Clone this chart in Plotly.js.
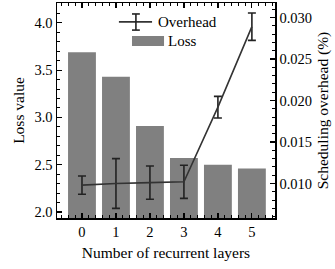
<!DOCTYPE html>
<html>
<head>
<meta charset="utf-8">
<script src="https://cdn.plot.ly/plotly-3.0.1.min.js"></script>
<style>html,body{margin:0;padding:0;background:#fff;}#chart{width:335px;height:269px;}</style>
</head>
<body>
<div id="chart"></div>
<script>
const layers = [0, 1, 2, 3, 4, 5];
const lossValues = [3.69, 3.43, 2.91, 2.57, 2.50, 2.46];
const overheadValues = [0.0098, 0.0100, 0.0101, 0.0102, 0.0192, 0.0289];
const overheadErrors = [0.0011, 0.0030, 0.0020, 0.0020, 0.0013, 0.00165];
const tickLabels = ['0', '1', '2', '3', '4', '5'];
const seriesNames = ['Overhead', 'Loss'];

const fam = '"Liberation Serif", "Times New Roman", serif';
const lineColor = '#333333';
const errColor = '#222222';
const barColor = '#808080';

const data = [
  {
    type: 'scatter', mode: 'lines', name: seriesNames[0],
    x: layers, y: overheadValues, yaxis: 'y2',
    line: {color: lineColor, width: 1.6},
    error_y: {type: 'data', array: overheadErrors, visible: true, color: errColor, thickness: 1.6, width: 4}
  },
  {
    type: 'bar', name: seriesNames[1],
    x: layers, y: lossValues, yaxis: 'y',
    marker: {color: barColor}, width: 0.82
  }
];

// legend drawn by hand in paper coordinates
const shapes = [
  {type: 'line', xref: 'paper', yref: 'paper', x0: 0.284, x1: 0.436, y0: 0.912, y1: 0.912, line: {color: lineColor, width: 1.6}},
  {type: 'line', xref: 'paper', yref: 'paper', x0: 0.362, x1: 0.362, y0: 0.874, y1: 0.949, line: {color: errColor, width: 1.6}},
  {type: 'line', xref: 'paper', yref: 'paper', x0: 0.344, x1: 0.380, y0: 0.874, y1: 0.874, line: {color: errColor, width: 1.6}},
  {type: 'line', xref: 'paper', yref: 'paper', x0: 0.344, x1: 0.380, y0: 0.949, y1: 0.949, line: {color: errColor, width: 1.6}},
  {type: 'rect', xref: 'paper', yref: 'paper', x0: 0.344, x1: 0.491, y0: 0.800, y1: 0.847, fillcolor: barColor, line: {width: 0}}
];
const annotations = [
  {xref: 'paper', yref: 'paper', x: 0.452, y: 0.912, xanchor: 'left', yanchor: 'middle', text: seriesNames[0], showarrow: false, font: {family: fam, size: 15, color: '#000'}},
  {xref: 'paper', yref: 'paper', x: 0.502, y: 0.825, xanchor: 'left', yanchor: 'middle', text: seriesNames[1], showarrow: false, font: {family: fam, size: 15, color: '#000'}}
];

const layout = {
  width: 335, height: 269,
  margin: {l: 57, r: 60, t: 3, b: 51},
  paper_bgcolor: '#fff', plot_bgcolor: '#fff',
  font: {family: fam, size: 14, color: '#000'},
  showlegend: false,
  shapes: shapes,
  annotations: annotations,
  xaxis: {
    range: [-0.735, 5.68], tickvals: layers, ticktext: tickLabels,
    ticks: 'inside', ticklen: 5, tickwidth: 1.2, tickcolor: '#000',
    showline: true, linecolor: '#000', linewidth: 1.5, mirror: 'ticks',
    showgrid: false, zeroline: false,
    minor: {dtick: 0.2, tick0: 0, ticks: 'inside', ticklen: 3, tickwidth: 1, tickcolor: '#000'},
    tickfont: {family: fam, size: 14.5},
    title: {text: 'Number of recurrent layers', font: {family: fam, size: 15.5}, standoff: 8}
  },
  yaxis: {
    range: [1.936, 4.21], dtick: 0.5, tick0: 0, tickformat: '.1f',
    ticks: 'inside', ticklen: 5, tickwidth: 1.2, tickcolor: '#000',
    showline: true, linecolor: '#000', linewidth: 1.5,
    showgrid: false, zeroline: false,
    minor: {dtick: 0.1, ticks: 'inside', ticklen: 3, tickwidth: 1, tickcolor: '#000'},
    tickfont: {family: fam, size: 14.5},
    title: {text: 'Loss value', font: {family: fam, size: 15.5}, standoff: 6}
  },
  yaxis2: {
    overlaying: 'y', side: 'right',
    range: [0.00584, 0.03175], dtick: 0.005, tick0: 0, tickformat: '.3f',
    ticks: 'inside', ticklen: 5, tickwidth: 1.2, tickcolor: '#000',
    showline: true, linecolor: '#000', linewidth: 1.5,
    showgrid: false, zeroline: false,
    minor: {dtick: 0.001, ticks: 'inside', ticklen: 3, tickwidth: 1, tickcolor: '#000'},
    tickfont: {family: fam, size: 14.5},
    title: {text: 'Scheduling overhead (%)', font: {family: fam, size: 15.5}, standoff: 6}
  }
};

Plotly.newPlot('chart', data, layout, {displayModeBar: false, staticPlot: true});
</script>
</body>
</html>
